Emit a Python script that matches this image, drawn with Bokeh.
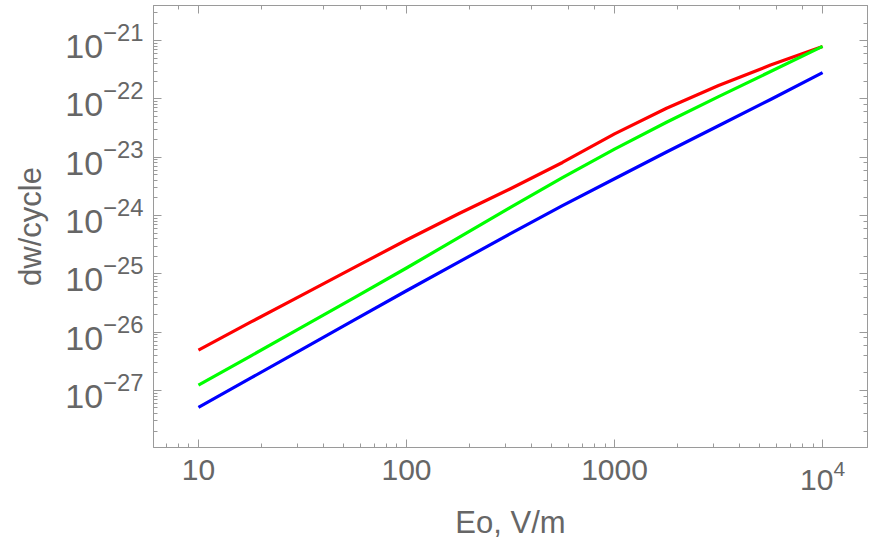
from bokeh.plotting import figure
from bokeh.models import LogAxis, LogTicker, LogTickFormatter, Range1d
from bokeh.embed import file_html
from bokeh.resources import INLINE

# Field amplitude Eo (V/m)
E_values = [10, 17.8, 31.6, 56.2, 100, 178, 316, 562, 1000, 1778, 3162, 5623, 10000]
# log10 of dw/cycle for each curve
red_log = [-26.31, -25.83, -25.36, -24.89, -24.42, -23.97, -23.54, -23.09, -22.60, -22.16, -21.77, -21.42, -21.10]
green_log = [-26.91, -26.41, -25.91, -25.41, -24.90, -24.38, -23.86, -23.35, -22.86, -22.40, -21.96, -21.53, -21.10]
blue_log = [-27.29, -26.79, -26.29, -25.79, -25.29, -24.80, -24.31, -23.83, -23.37, -22.91, -22.46, -22.01, -21.55]

red_w = [10 ** v for v in red_log]
green_w = [10 ** v for v in green_log]
blue_w = [10 ** v for v in blue_log]

AXIS_COLOR = "#9a9a9a"
LABEL_COLOR = "#666666"
FONT = "Liberation Sans"

p = figure(width=872, height=542, x_axis_type="log", y_axis_type="log",
           x_range=Range1d(6.08, 16440), y_range=Range1d(1.05e-28, 4.0e-21),
           output_backend="svg", toolbar_location=None,
           min_border_left=153, min_border_right=5, min_border_top=5, min_border_bottom=95)
p.background_fill_color = "white"
p.border_fill_color = "white"
p.outline_line_color = AXIS_COLOR
p.xgrid.visible = False
p.ygrid.visible = False

for xs, ys, c in [(E_values, red_w, "#ff0000"), (E_values, green_w, "#00ff00"), (E_values, blue_w, "#0000ff")]:
    p.line(xs, ys, line_color=c, line_width=3.2, line_join="round")

def style(ax, labels=True, size="30px"):
    ax.axis_line_color = AXIS_COLOR
    ax.major_tick_line_color = AXIS_COLOR
    ax.minor_tick_line_color = AXIS_COLOR
    ax.major_tick_in = 8
    ax.major_tick_out = 0
    ax.minor_tick_in = 4
    ax.minor_tick_out = 0
    ax.major_label_text_font = FONT
    ax.major_label_text_color = LABEL_COLOR
    ax.major_label_text_font_size = size
    ax.axis_label_text_font = FONT
    ax.axis_label_text_color = LABEL_COLOR
    ax.axis_label_text_font_size = "31px"
    ax.axis_label_text_font_style = "normal"
    if not labels:
        ax.major_label_text_alpha = 0
        ax.major_label_text_font_size = "1px"

xa = p.xaxis[0]
style(xa, size="30px")
xa.formatter = LogTickFormatter(min_exponent=4)
xa.axis_label = "Eo, V/m"
xa.major_label_standoff = 12
xa.axis_label_standoff = 12

ya = p.yaxis[0]
style(ya, size="34px")
ya.axis_label = "dw/cycle"
ya.major_label_standoff = 10
ya.axis_label_standoff = 14

top = LogAxis(ticker=LogTicker())
style(top, labels=False)
p.add_layout(top, "above")
right = LogAxis(ticker=LogTicker())
style(right, labels=False)
p.add_layout(right, "right")

open("out.html", "w").write(file_html(p, INLINE))
